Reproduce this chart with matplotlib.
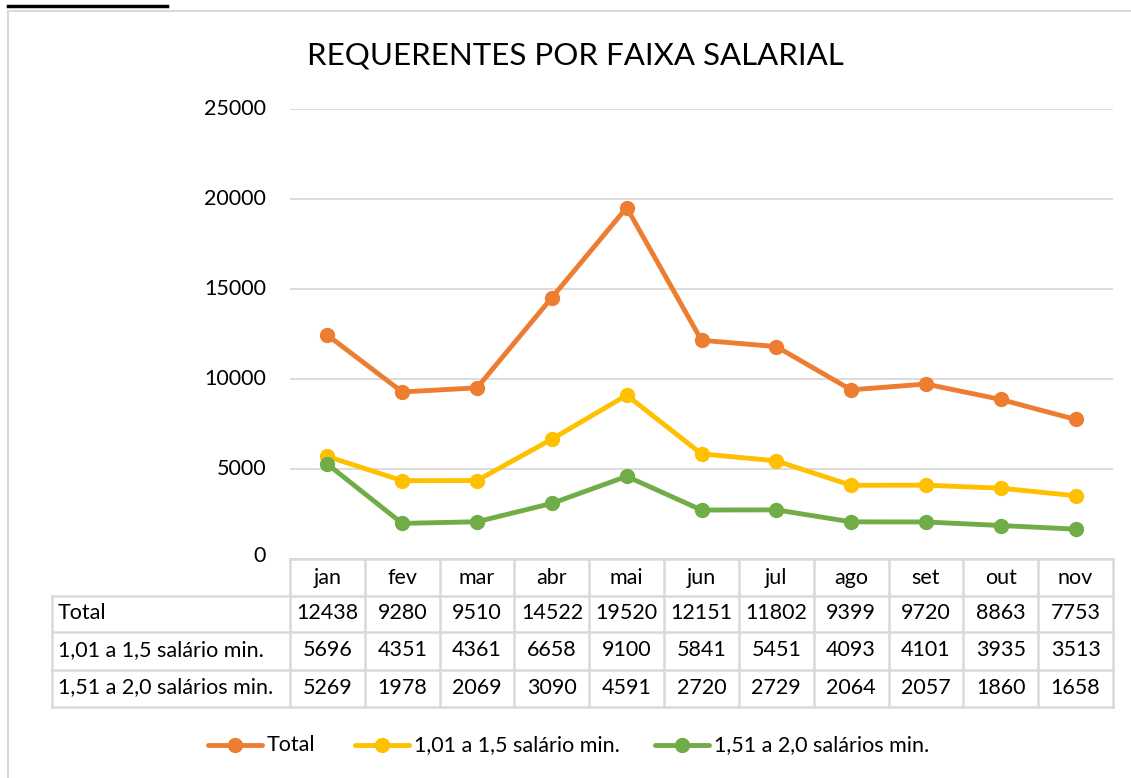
import matplotlib
matplotlib.use("Agg")
import matplotlib.pyplot as plt
import numpy as np

months = ["jan", "fev", "mar", "abr", "mai", "jun", "jul", "ago", "set", "out", "nov"]
series_names = ["Total", "1,01 a 1,5 salário min.", "1,51 a 2,0 salários min."]
total = [12438, 9280, 9510, 14522, 19520, 12151, 11802, 9399, 9720, 8863, 7753]
faixa1 = [5696, 4351, 4361, 6658, 9100, 5841, 5451, 4093, 4101, 3935, 3513]
faixa2 = [5269, 1978, 2069, 3090, 4591, 2720, 2729, 2064, 2057, 1860, 1658]
yticks = [0, 5000, 10000, 15000, 20000, 25000]
colors = ["#ED7D31", "#FFC000", "#70AD47"]
title = "REQUERENTES POR FAIXA SALARIAL"

plt.rcParams['font.family'] = ['Lato', 'DejaVu Sans']
W, H = 1131, 778
fig = plt.figure(figsize=(W / 100, H / 100), dpi=100)

# plot area in pixels
px_l, px_r, px_t, px_b = 290, 1113, 109, 559
ax = fig.add_axes([px_l / W, 1 - px_b / H, (px_r - px_l) / W, (px_b - px_t) / H])
ax.set_xlim(-0.5, len(months) - 0.5)
ax.set_ylim(0, 25000)
for s in ax.spines.values():
    s.set_visible(False)
ax.set_xticks([])
ax.set_yticks(yticks)
ax.set_yticklabels([])
ax.tick_params(length=0)
ax.grid(axis='y', color='#D9D9D9', linewidth=1.3)
ax.set_axisbelow(True)

x = np.arange(len(months))
for vals, c in zip([total, faixa1, faixa2], colors):
    ax.plot(x, vals, color=c, linewidth=3.5, marker='o', markersize=10,
            solid_capstyle='round', zorder=3)

# overlay in pixel coordinates
ov = fig.add_axes([0, 0, 1, 1], zorder=-1)
ov.set_xlim(0, W)
ov.set_ylim(H, 0)
ov.axis('off')
ov2 = fig.add_axes([0, 0, 1, 1], zorder=5)
ov2.set_xlim(0, W)
ov2.set_ylim(H, 0)
ov2.axis('off')
ov2.patch.set_alpha(0)

fs = 15.5
# chart border
ov.plot([8, 8, 1135], [790, 11, 11], color='#D9D9D9', linewidth=1.5)
# underline of the (cut-off) caption above the chart
ov2.plot([8, 167], [5.5, 5.5], color='black', linewidth=2.5)

# title
ov2.text(575, 55, title, fontsize=22.5, ha='center', va='center', color='black')

# y tick labels
for v in yticks:
    yy = px_b - (v / 25000) * (px_b - px_t)
    ov2.text(266, yy - (3 if v == 0 else 0), str(v), fontsize=fs, ha='right', va='center')

# data table
cw = (px_r - px_l) / len(months)
row_y = [559, 596, 632, 670, 707]
lab_l = 52
lc = '#D9D9D9'
lw = 1.8
ov2.plot([px_l, px_r], [row_y[0], row_y[0]], color=lc, linewidth=lw, zorder=1)
for yy in row_y[1:]:
    ov2.plot([lab_l, px_r], [yy, yy], color=lc, linewidth=lw, zorder=1)
for i in range(len(months) + 1):
    xx = px_l + i * cw
    ov2.plot([xx, xx], [row_y[0], row_y[-1]], color=lc, linewidth=lw, zorder=1)
ov2.plot([lab_l, lab_l], [row_y[1], row_y[-1]], color=lc, linewidth=lw, zorder=1)

for i, m in enumerate(months):
    ov2.text(px_l + (i + 0.5) * cw, (row_y[0] + row_y[1]) / 2 + 1, m,
             fontsize=fs, ha='center', va='center')
for r, (name, vals) in enumerate(zip(series_names, [total, faixa1, faixa2])):
    yc = (row_y[r + 1] + row_y[r + 2]) / 2 - 1
    ov2.text(lab_l + 6, yc, name, fontsize=fs, ha='left', va='center')
    for i, v in enumerate(vals):
        ov2.text(px_l + (i + 0.5) * cw, yc, str(v), fontsize=fs, ha='center', va='center')

# legend
leg_x = [208, 355, 655]
ly = 745
for lx, name, c in zip(leg_x, series_names, colors):
    ov2.plot([lx, lx + 54], [ly, ly], color=c, linewidth=3.5, solid_capstyle='round')
    ov2.plot([lx + 27], [ly], marker='o', markersize=10, color=c)
    ov2.text(lx + 59, ly, name, fontsize=fs, ha='left', va='center')

fig.savefig("out.png", dpi=100)
